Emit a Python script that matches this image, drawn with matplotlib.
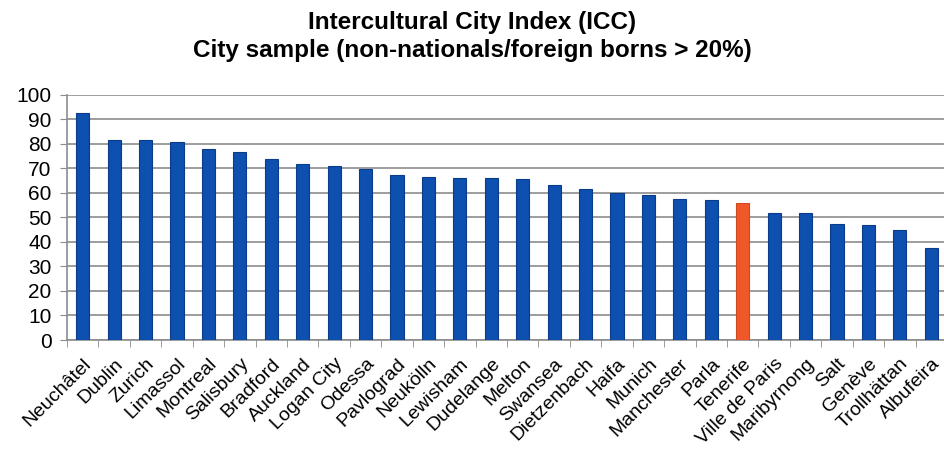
import matplotlib
matplotlib.use("Agg")
import matplotlib.pyplot as plt
import numpy as np

cities = ["Neuchâtel", "Dublin", "Zurich", "Limassol", "Montreal", "Salisbury",
          "Bradford", "Auckland", "Logan City", "Odessa", "Pavlograd", "Neukölln",
          "Lewisham", "Dudelange", "Melton", "Swansea", "Dietzenbach", "Haifa",
          "Munich", "Manchester", "Parla", "Tenerife", "Ville de Paris",
          "Maribyrnong", "Salt", "Genève", "Trollhättan", "Albufeira"]
scores = [92.4, 81.5, 81.5, 80.8, 77.9, 76.8, 73.6, 71.8, 71.1, 69.8, 67.4, 66.3,
          65.9, 65.9, 65.5, 63.0, 61.7, 59.8, 59.3, 57.4, 57.0, 55.9, 51.6, 51.6,
          47.4, 47.0, 44.9, 37.4]
highlight = "Tenerife"
yticks = list(range(0, 101, 10))

plt.rcParams['font.family'] = ['Liberation Sans', 'DejaVu Sans']

W, H = 945, 457
fig = plt.figure(figsize=(W / 100, H / 100), dpi=100)
left, right, top, bottom = 67, 947, 94.7, 340
ax = fig.add_axes([left / W, 1 - bottom / H, (right - left) / W, (bottom - top) / H])

x = np.arange(len(cities))
colors = ['#F0582A' if c == highlight else '#0E50B0' for c in cities]
edges = ['#D04A20' if c == highlight else '#0A3C8A' for c in cities]
ax.bar(x, scores, width=0.42, color=colors, edgecolor=edges, linewidth=0.8, zorder=3)

ax.set_xlim(-0.5, len(cities) - 0.5)
ax.set_ylim(0, 100)
ax.set_yticks(yticks)
ax.set_yticklabels([str(v) for v in yticks], fontsize=15)
ax.yaxis.grid(True, color='#8C8C8C', linewidth=1.2, zorder=0)
ax.set_axisbelow(True)

ax.set_xticks(x)
ax.set_xticklabels(cities, rotation=45, ha='right', rotation_mode='anchor', fontsize=14)
ax.tick_params(axis='x', length=0, pad=11)
ax.set_xticks(np.arange(-0.5, len(cities), 1), minor=True)
ax.tick_params(axis='x', which='minor', length=5, color='#8C8C8C', direction='out')
ax.tick_params(axis='y', length=5, color='#8C8C8C', pad=6)

for s in ['top', 'right']:
    ax.spines[s].set_visible(False)
for s in ['left', 'bottom']:
    ax.spines[s].set_color('#8C8C8C')
    ax.spines[s].set_linewidth(1.2)

fig.text(0.5, 1 - 22 / H, "Intercultural City Index (ICC)", ha='center', va='center',
         fontsize=17.5, fontweight='bold')
fig.text(0.5, 1 - 50 / H, "City sample (non-nationals/foreign borns > 20%)", ha='center',
         va='center', fontsize=17.5, fontweight='bold')

fig.savefig("out.png", dpi=100)
